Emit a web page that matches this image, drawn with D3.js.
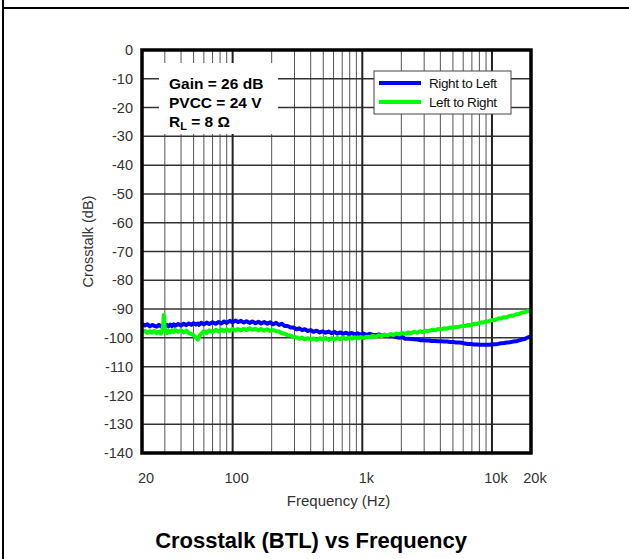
<!DOCTYPE html>
<html>
<head>
<meta charset="utf-8">
<script src="https://cdnjs.cloudflare.com/ajax/libs/d3/7.8.5/d3.min.js"></script>
<style>
  body { margin: 0; background: #fff; }
  text { font-family: "Liberation Sans", Arial, sans-serif; }
</style>
</head>
<body>
<div id="chart"></div>
<script>
// frequency points (Hz)
var freqs = [20, 21, 22, 23, 24, 25, 26, 27, 28, 29, 29.5, 30, 31, 32, 33, 34, 35, 36, 38, 40,
  42, 44, 46, 48, 50, 52, 54, 55, 57, 60, 63, 66, 70, 74, 78, 82, 86, 90, 95, 100,
  105, 110, 116, 122, 128, 135, 142, 150, 158, 166, 175, 185, 195, 205, 216, 228, 240, 252, 265, 280,
  295, 310, 326, 343, 360, 380, 400, 420, 445, 470, 495, 520, 550, 580, 610, 640, 675, 710, 750, 790,
  830, 875, 920, 970, 1020, 1080, 1140, 1200, 1270, 1340, 1410, 1490, 1570, 1650, 1740, 1830, 1930, 2030, 2140, 2260,
  2380, 2510, 2650, 2790, 2940, 3100, 3270, 3450, 3640, 3840, 4050, 4270, 4500, 4750, 5000, 5270, 5560, 5870, 6190, 6530,
  6890, 7270, 7670, 8090, 8530, 9000, 9500, 10000, 10550, 11130, 11740, 12380, 13060, 13780, 14540, 15340, 16180, 17070, 18010, 19000,
  20000];

// Right to Left crosstalk (dB)
var rightToLeft = [-95.2, -95.7, -95.3, -96.0, -95.5, -95.9, -96.1, -95.5, -96.0, -95.6, -95.8, -96.1, -95.5, -96.0, -95.4, -95.9, -95.3, -95.8, -95.2, -95.7,
  -95.1, -95.6, -95.0, -95.5, -94.9, -95.4, -95.0, -95.5, -94.8, -95.3, -94.7, -95.2, -94.6, -95.1, -94.5, -95.0, -94.3, -94.8, -94.1, -94.6,
  -94.0, -94.5, -94.1, -94.7, -94.2, -94.8, -94.3, -94.9, -94.4, -95.0, -94.5, -95.1, -94.6, -95.3, -94.8, -95.5, -95.1, -95.9, -95.9, -96.4,
  -96.4, -97.0, -96.7, -97.3, -97.0, -97.6, -97.3, -97.9, -97.5, -98.1, -97.7, -98.2, -97.8, -98.4, -97.9, -98.5, -98.1, -98.6, -98.2, -98.7,
  -98.3, -98.8, -98.4, -98.9, -98.5, -99.0, -98.6, -98.9, -99.1, -98.8, -99.3, -98.9, -99.4, -99.4, -99.5, -99.7, -100.0, -99.7, -100.3, -100.3,
  -100.4, -100.5, -100.6, -100.8, -100.8, -100.9, -100.9, -101.1, -101.1, -101.2, -101.2, -101.3, -101.3, -101.4, -101.4, -101.6, -101.6, -101.7, -102.0, -102.1,
  -102.1, -102.3, -102.3, -102.4, -102.4, -102.4, -102.4, -102.3, -102.2, -102.1, -101.9, -101.8, -101.6, -101.5, -101.3, -101.2, -100.9, -100.6, -100.3, -99.8,
  -99.4];

// Left to Right crosstalk (dB)
var leftToRight = [-98.0, -97.5, -98.3, -97.7, -98.2, -97.6, -98.4, -97.8, -98.5, -96.5, -92.0, -96.8, -98.4, -97.5, -98.1, -97.4, -98.0, -97.3, -97.9, -97.4,
  -98.1, -97.5, -98.3, -98.7, -99.1, -99.9, -100.6, -99.6, -98.6, -97.7, -98.3, -97.4, -98.0, -97.2, -97.8, -97.1, -97.7, -97.0, -97.6, -96.9,
  -97.5, -96.9, -97.4, -96.8, -97.3, -96.7, -97.2, -96.8, -97.4, -96.9, -97.5, -97.0, -97.6, -97.3, -97.7, -97.8, -98.4, -98.6, -99.1, -99.2,
  -99.7, -99.8, -100.3, -99.9, -100.5, -100.1, -100.6, -100.2, -100.7, -100.1, -100.6, -100.0, -100.7, -100.1, -100.6, -100.0, -100.5, -99.9, -100.4, -99.9,
  -100.3, -99.8, -100.2, -99.7, -100.1, -99.6, -99.7, -99.3, -99.6, -99.1, -99.4, -98.9, -99.2, -98.7, -99.0, -98.5, -98.8, -98.3, -98.6, -98.1,
  -98.4, -97.9, -98.2, -97.7, -98.0, -97.5, -97.6, -97.2, -97.4, -96.9, -97.1, -96.7, -96.8, -96.4, -96.5, -96.2, -96.2, -95.9, -95.9, -95.5,
  -95.6, -95.1, -95.2, -94.7, -94.7, -94.3, -94.2, -93.8, -93.8, -93.3, -93.3, -92.8, -92.8, -92.3, -92.3, -91.8, -91.7, -91.2, -91.1, -90.7,
  -90.5];

var yTicks = [0, -10, -20, -30, -40, -50, -60, -70, -80, -90, -100, -110, -120, -130, -140];
var xTickValues = [20, 100, 1000, 10000, 20000];
var xTickLabels = ["20", "100", "1k", "10k", "20k"];
var minorFreqs = [30, 40, 50, 60, 70, 80, 90, 200, 300, 400, 500, 600, 700, 800, 900,
  2000, 3000, 4000, 5000, 6000, 7000, 8000, 9000];
var decadeFreqs = [100, 1000, 10000];

var series = [
  { name: "Right to Left", values: rightToLeft, color: "#0000ff" },
  { name: "Left to Right", values: leftToRight, color: "#00ff00" }
];

var svgWidth = 629;
var svgHeight = 559;

var margin = { top: 50, left: 142 };
var width = 389;
var height = 403;

var svg = d3.select("#chart")
  .append("svg")
  .attr("width", svgWidth)
  .attr("height", svgHeight);

// page frame (left and top rules)
svg.append("line")
  .attr("x1", 3).attr("x2", 3).attr("y1", 0).attr("y2", svgHeight)
  .attr("stroke", "#000").attr("stroke-width", 2);
svg.append("line")
  .attr("x1", 3).attr("x2", svgWidth).attr("y1", 8).attr("y2", 8)
  .attr("stroke", "#000").attr("stroke-width", 2);

var chartGroup = svg.append("g")
  .attr("transform", `translate(${margin.left}, ${margin.top})`);

var xScale = d3.scaleLog()
  .domain([20, 20000])
  .range([0, width]);

var yScale = d3.scaleLinear()
  .domain([-140, 0])
  .range([height, 0]);

// minor vertical grid
chartGroup.selectAll(".minor")
  .data(minorFreqs)
  .enter()
  .append("line")
  .attr("x1", d => xScale(d)).attr("x2", d => xScale(d))
  .attr("y1", 0).attr("y2", height)
  .attr("stroke", "#555")
  .attr("stroke-width", 1);

// horizontal grid
chartGroup.selectAll(".hgrid")
  .data(yTicks)
  .enter()
  .append("line")
  .attr("x1", 0).attr("x2", width)
  .attr("y1", d => yScale(d)).attr("y2", d => yScale(d))
  .attr("stroke", "#333")
  .attr("stroke-width", 1.5);

// decade lines
chartGroup.selectAll(".decade")
  .data(decadeFreqs)
  .enter()
  .append("line")
  .attr("x1", d => xScale(d)).attr("x2", d => xScale(d))
  .attr("y1", 0).attr("y2", height)
  .attr("stroke", "#222")
  .attr("stroke-width", 2);

// white box behind the conditions text
chartGroup.append("rect")
  .attr("x", 17).attr("y", 13)
  .attr("width", 119).attr("height", 71)
  .attr("fill", "#fff");

var cond = chartGroup.append("g")
  .attr("font-size", "15.5px")
  .attr("font-weight", "bold")
  .attr("fill", "#000");
cond.append("text").attr("x", 27).attr("y", 39).text("Gain = 26 dB");
cond.append("text").attr("x", 27).attr("y", 58).text("PVCC = 24 V");
var rl = cond.append("text").attr("x", 27).attr("y", 77);
rl.append("tspan").text("R");
rl.append("tspan").attr("font-size", "11px").attr("dy", 3).text("L");
rl.append("tspan").attr("dy", -3).text(" = 8 \u03A9");

// curves
var line = d3.line()
  .x((d, i) => xScale(freqs[i]))
  .y(d => yScale(d));

chartGroup.selectAll(".curve")
  .data(series)
  .enter()
  .append("path")
  .attr("d", d => line(d.values))
  .attr("fill", "none")
  .attr("stroke", d => d.color)
  .attr("stroke-width", 4)
  .attr("stroke-linejoin", "round");

// legend
var legend = chartGroup.append("g")
  .attr("transform", "translate(232, 21)");
legend.append("rect")
  .attr("width", 137).attr("height", 43)
  .attr("fill", "#fff")
  .attr("stroke", "#444")
  .attr("stroke-width", 1);
series.forEach(function(s, i) {
  legend.append("line")
    .attr("x1", 5).attr("x2", 47)
    .attr("y1", 12 + i * 19).attr("y2", 12 + i * 19)
    .attr("stroke", s.color)
    .attr("stroke-width", 4);
  legend.append("text")
    .attr("x", 55).attr("y", 17 + i * 19)
    .attr("font-size", "13.5px")
    .attr("fill", "#111")
    .attr("letter-spacing", "-0.4px")
    .text(s.name);
});

// plot frame
chartGroup.append("rect")
  .attr("width", width).attr("height", height)
  .attr("fill", "none")
  .attr("stroke", "#000")
  .attr("stroke-width", 3.5);

// y tick labels
chartGroup.selectAll(".ylab")
  .data(yTicks)
  .enter()
  .append("text")
  .attr("x", -9)
  .attr("y", d => yScale(d))
  .attr("dy", "0.35em")
  .attr("text-anchor", "end")
  .attr("font-size", "14.5px")
  .attr("fill", "#333")
  .text(d => d);

// x tick labels
chartGroup.selectAll(".xlab")
  .data(xTickValues)
  .enter()
  .append("text")
  .attr("x", d => xScale(d) + 4)
  .attr("y", height + 30)
  .attr("text-anchor", "middle")
  .attr("font-size", "14.5px")
  .attr("fill", "#333")
  .text((d, i) => xTickLabels[i]);

// axis titles
chartGroup.append("text")
  .attr("x", width / 2 + 2)
  .attr("y", height + 53)
  .attr("text-anchor", "middle")
  .attr("font-size", "15px")
  .attr("fill", "#333")
  .text("Frequency (Hz)");

chartGroup.append("text")
  .attr("transform", "rotate(-90)")
  .attr("x", -(height / 2) + 10)
  .attr("y", -49)
  .attr("text-anchor", "middle")
  .attr("font-size", "14.5px")
  .attr("fill", "#333")
  .text("Crosstalk (dB)");

// chart title
svg.append("text")
  .attr("x", 311)
  .attr("y", 548)
  .attr("text-anchor", "middle")
  .attr("font-size", "22px")
  .attr("font-weight", "bold")
  .attr("fill", "#000")
  .text("Crosstalk (BTL) vs Frequency");
</script>
</body>
</html>
